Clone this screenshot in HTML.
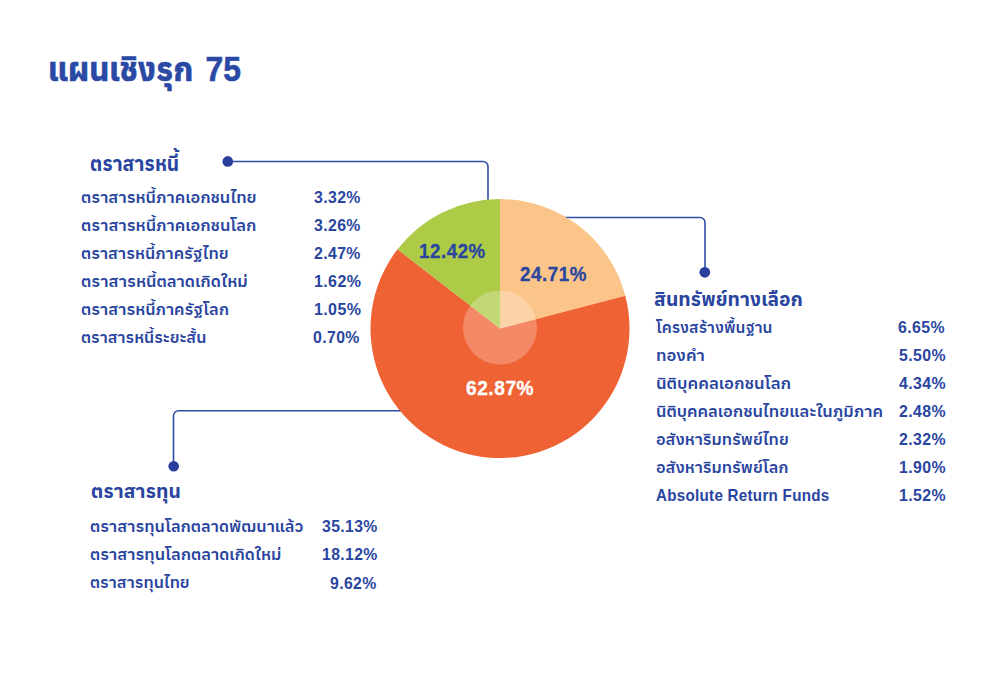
<!DOCTYPE html>
<html lang="th">
<head>
<meta charset="utf-8">
<title>แผนเชิงรุก 75</title>
<style>
  html, body { margin: 0; padding: 0; }
  body {
    width: 1000px; height: 700px; overflow: hidden; position: relative;
    background: #ffffff;
    font-family: "Liberation Sans", "Anuphan", "Noto Sans Thai", "Loma", sans-serif;
    font-weight: 700;
    color: #2945a0;
  }
  svg.chart { position: absolute; left: 0; top: 0; }
  .t { position: absolute; white-space: nowrap; line-height: 24px; height: 24px; transform-origin: 0 0; }
  .title { font-size: 32px; line-height: 44px; height: 44px; color: #2a49a5; font-weight: 700; -webkit-text-stroke: 0.6px currentColor; }
  .title .big { font-size: 35px; display: inline-block; transform: scaleX(0.92); transform-origin: 100% 50%; }
  .hd { font-size: 20px; font-weight: 700; }
  .row { font-size: 16px; font-weight: 650; }
  .lat { font-size: 16.6px; font-weight: 700; letter-spacing: 0.3px; }
  .pct { font-size: 16.5px; font-weight: 700; letter-spacing: 0.4px; }
  .pl { font-size: 20px; font-weight: 700; letter-spacing: 0.6px; -webkit-text-stroke: 0.3px currentColor; }
  .pl.w { color: #ffffff; }
</style>
</head>
<body>

<svg class="chart" width="1000" height="700" viewBox="0 0 1000 700">
  <g fill="none" stroke="#2d4ea6" stroke-width="1.6">
    <path d="M228 161.5 H483 A5 5 0 0 1 488 166.5 V205"/>
    <path d="M560 217.5 H700 A5 5 0 0 1 705 222.5 V272"/>
    <path d="M410 410.8 H178.5 A5 5 0 0 0 173.5 415.8 V466"/>
  </g>
  <g fill="#2a3f9c">
    <circle cx="227.8" cy="161.4" r="5.3"/>
    <circle cx="704.8" cy="272.3" r="5.4"/>
    <circle cx="173.7" cy="466.3" r="5.3"/>
  </g>
  <g>
    <path id="peach" fill="#fbc589" d="M500 328.5 L500.00 199.00 A129.5 129.5 0 0 1 625.26 295.64 Z"/>
    <path id="orange" fill="#ef6234" d="M500 328.5 L625.26 295.64 A129.5 129.5 0 1 1 397.54 249.31 Z"/>
    <path id="green" fill="#aecb47" d="M500 328.5 L397.54 249.31 A129.5 129.5 0 0 1 500.00 199.00 Z"/>
    <circle cx="500" cy="327.5" r="37" fill="#ffffff" fill-opacity="0.25"/>
  </g>
</svg>

<div class="t title" style="left:47.85px;top:47.05px;transform:scaleX(0.9902)">แผนเชิงรุก <span class="big">75</span></div>
<div class="t hd" style="left:89.60px;top:151.50px;transform:scaleX(0.9703)">ตราสารหนี้</div>
<div class="t row" style="left:80.69px;top:186.03px;transform:scaleX(1.0385)">ตราสารหนี้ภาคเอกชนไทย</div>
<div class="t row" style="left:80.67px;top:214.02px;transform:scaleX(1.0394)">ตราสารหนี้ภาคเอกชนโลก</div>
<div class="t row" style="left:80.91px;top:242.01px;transform:scaleX(1.0276)">ตราสารหนี้ภาครัฐไทย</div>
<div class="t row" style="left:80.56px;top:270.00px;transform:scaleX(1.0456)">ตราสารหนี้ตลาดเกิดใหม่</div>
<div class="t row" style="left:80.90px;top:297.99px;transform:scaleX(1.0318)">ตราสารหนี้ภาครัฐโลก</div>
<div class="t row" style="left:81.14px;top:325.98px;transform:scaleX(1.0142)">ตราสารหนี้ระยะสั้น</div>
<div class="t pct" style="left:313.80px;top:184.96px;transform:scaleX(0.9593)">3.32%</div>
<div class="t pct" style="left:313.80px;top:213.01px;transform:scaleX(0.9593)">3.26%</div>
<div class="t pct" style="left:314.37px;top:241.06px;transform:scaleX(0.9586)">2.47%</div>
<div class="t pct" style="left:313.63px;top:269.11px;transform:scaleX(0.9699)">1.62%</div>
<div class="t pct" style="left:313.63px;top:297.16px;transform:scaleX(0.9699)">1.05%</div>
<div class="t pct" style="left:313.36px;top:325.20px;transform:scaleX(0.9602)">0.70%</div>
<div class="t hd" style="left:653.74px;top:287.50px;transform:scaleX(1.0228);font-size:19px">สินทรัพย์ทางเลือก</div>
<div class="t row" style="left:656.43px;top:316.36px;transform:scaleX(0.9866)">โครงสร้างพื้นฐาน</div>
<div class="t row" style="left:656.14px;top:344.27px;transform:scaleX(1.0490)">ทองคำ</div>
<div class="t row" style="left:656.09px;top:372.18px;transform:scaleX(1.0579)">นิติบุคคลเอกชนโลก</div>
<div class="t row" style="left:656.15px;top:400.08px;transform:scaleX(1.0415)">นิติบุคคลเอกชนไทยและในภูมิภาค</div>
<div class="t row" style="left:656.05px;top:427.99px;transform:scaleX(1.0235)">อสังหาริมทรัพย์ไทย</div>
<div class="t row" style="left:656.01px;top:455.89px;transform:scaleX(1.0235)">อสังหาริมทรัพย์โลก</div>
<div class="t lat" style="left:655.75px;top:484.44px;transform:scaleX(0.9144)">Absolute Return Funds</div>
<div class="t pct" style="left:898.48px;top:314.92px;transform:scaleX(0.9604)">6.65%</div>
<div class="t pct" style="left:898.58px;top:342.99px;transform:scaleX(0.9604)">5.50%</div>
<div class="t pct" style="left:898.58px;top:371.07px;transform:scaleX(0.9604)">4.34%</div>
<div class="t pct" style="left:898.58px;top:399.14px;transform:scaleX(0.9604)">2.48%</div>
<div class="t pct" style="left:898.58px;top:427.22px;transform:scaleX(0.9604)">2.32%</div>
<div class="t pct" style="left:898.58px;top:455.29px;transform:scaleX(0.9604)">1.90%</div>
<div class="t pct" style="left:898.58px;top:483.37px;transform:scaleX(0.9604)">1.52%</div>
<div class="t hd" style="left:91.33px;top:479.53px;transform:scaleX(1.0516);font-size:18.5px">ตราสารทุน</div>
<div class="t row" style="left:89.77px;top:515.17px;transform:scaleX(1.0329)">ตราสารทุนโลกตลาดพัฒนาแล้ว</div>
<div class="t row" style="left:89.81px;top:542.95px;transform:scaleX(1.0347)">ตราสารทุนโลกตลาดเกิดใหม่</div>
<div class="t row" style="left:90.03px;top:570.72px;transform:scaleX(1.0177)">ตราสารทุนไทย</div>
<div class="t pct" style="left:321.90px;top:513.90px;transform:scaleX(0.9553)">35.13%</div>
<div class="t pct" style="left:321.86px;top:542.20px;transform:scaleX(0.9553)">18.12%</div>
<div class="t pct" style="left:330.43px;top:570.50px;transform:scaleX(0.9553)">9.62%</div>
<div class="t pl" style="left:418.74px;top:238.59px;transform:scaleX(0.9349)">12.42%</div>
<div class="t pl" style="left:520.00px;top:261.80px;transform:scaleX(0.9368)">24.71%</div>
<div class="t pl w" style="left:465.69px;top:376.46px;transform:scaleX(0.9540)">62.87%</div>
</body>
</html>
